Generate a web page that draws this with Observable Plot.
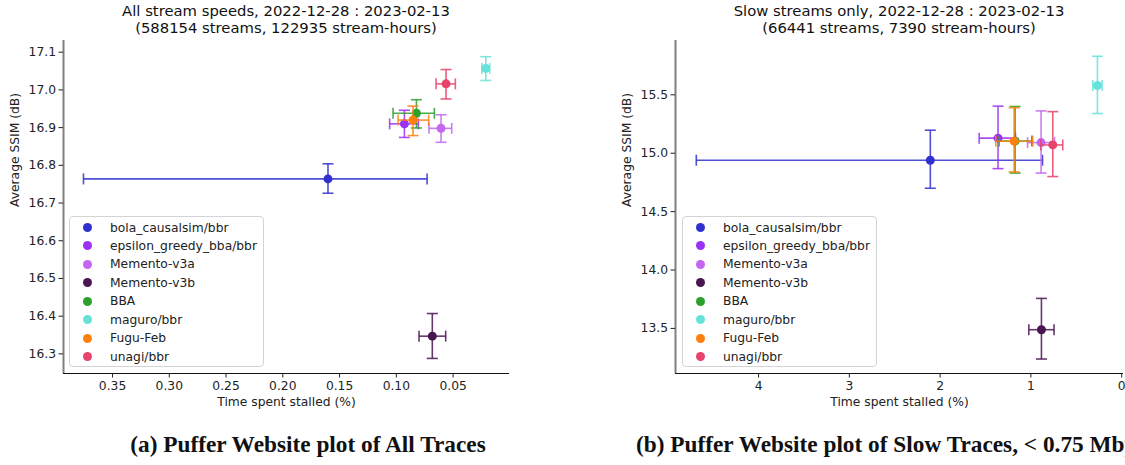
<!DOCTYPE html>
<html>
<head>
<meta charset="utf-8">
<script src="https://cdn.jsdelivr.net/npm/d3@7"></script>
<script src="https://cdn.jsdelivr.net/npm/@observablehq/plot@0.6"></script>
<style>
  html, body { margin: 0; padding: 0; background: #fff; }
  #wrap { position: relative; width: 1125px; height: 465px; overflow: hidden; background: #fff; font-family: "DejaVu Sans", sans-serif; color: #222; }
  .panel { position: absolute; top: 0; }
  .panel svg { max-width: none !important; }
  .title { position: absolute; text-align: center; font-size: 14.8px; line-height: 16.5px; white-space: nowrap; color: #111; }
  .legend { position: absolute; border: 1px solid #d4d4d4; border-radius: 4px; background: rgba(255,255,255,0.85); box-sizing: border-box; }
  .legend .row { position: absolute; left: 0; height: 18px; font-size: 12.3px; line-height: 18px; white-space: nowrap; color: #222; }
  .legend .sw { position: absolute; width: 9px; height: 9px; border-radius: 50%; top: 4.5px; }
  .caption { position: absolute; font-family: "Liberation Serif", "DejaVu Serif", serif; font-weight: bold; font-size: 23.3px; white-space: nowrap; color: #111; }
</style>
</head>
<body>
<div id="wrap"></div>
<script>
// ---- categories and colours ----
const algorithms = ["bola_causalsim/bbr", "epsilon_greedy_bba/bbr", "Memento-v3a", "Memento-v3b", "BBA", "maguro/bbr", "Fugu-Feb", "unagi/bbr"];
const colors = ["#3131d0", "#9b30f6", "#c466f0", "#4a1652", "#2ca02c", "#66e2d8", "#ff7f0e", "#e8436a"];

// ---- panel (a): all stream speeds ----
const allStall   = [0.1602, 0.0929, 0.0606, 0.0683, 0.0823, 0.0212, 0.0853, 0.0562];
const allStallLo = [0.3756, 0.1059, 0.0712, 0.0800, 0.1029, 0.0247, 0.0985, 0.0650];
const allStallHi = [0.0729, 0.0806, 0.0512, 0.0565, 0.0665, 0.0177, 0.0715, 0.0480];
const allSsim    = [16.764, 16.910, 16.898, 16.347, 16.938, 17.057, 16.920, 17.016];
const allSsimLo  = [16.726, 16.874, 16.861, 16.288, 16.899, 17.025, 16.879, 16.976];
const allSsimHi  = [16.804, 16.946, 16.934, 16.407, 16.974, 17.088, 16.957, 17.054];
const allXDomain = [0.3932, 0.0003];
const allYDomain = [16.248, 17.131];
const allXTicks = [0.35, 0.30, 0.25, 0.20, 0.15, 0.10, 0.05];
const allYTicks = [16.3, 16.4, 16.5, 16.6, 16.7, 16.8, 16.9, 17.0, 17.1];

// ---- panel (b): slow streams only ----
const slowStall   = [2.108, 1.362, 0.888, 0.884, 1.174, 0.267, 1.185, 0.759];
const slowStallLo = [4.686, 1.570, 1.037, 1.023, 1.350, 0.318, 1.387, 0.891];
const slowStallHi = [0.872, 1.170, 0.740, 0.745, 0.990, 0.216, 0.980, 0.649];
const slowSsim    = [14.940, 15.129, 15.091, 13.489, 15.105, 15.580, 15.103, 15.071];
const slowSsimLo  = [14.700, 14.868, 14.830, 13.238, 14.830, 15.340, 14.840, 14.800];
const slowSsimHi  = [15.197, 15.403, 15.362, 13.757, 15.400, 15.830, 15.390, 15.356];
const slowXDomain = [4.915, -0.02];
const slowYDomain = [13.114, 15.965];
const slowXTicks = [4, 3, 2, 1, 0];
const slowYTicks = [13.5, 14.0, 14.5, 15.0, 15.5];

// ---- texts ----
const titlesA = ["All stream speeds, 2022-12-28 : 2023-02-13", "(588154 streams, 122935 stream-hours)"];
const titlesB = ["Slow streams only, 2022-12-28 : 2023-02-13", "(66441 streams, 7390 stream-hours)"];
const xLabel = "Time spent stalled (%)";
const yLabel = "Average SSIM (dB)";
const captionA = "(a) Puffer Website plot of All Traces";
const captionB = "(b) Puffer Website plot of Slow Traces, < 0.75 Mbps";

const hCap = { draw(ctx, size) { const r = Math.sqrt(size / Math.PI); ctx.moveTo(-r, 0); ctx.lineTo(r, 0); } };
const vCap = { draw(ctx, size) { const r = Math.sqrt(size / Math.PI); ctx.moveTo(0, -r); ctx.lineTo(0, r); } };

function table(x, xlo, xhi, y, ylo, yhi) {
  return algorithms.map((a, i) => ({ alg: a, i, x: x[i], xlo: xlo[i], xhi: xhi[i], y: y[i], ylo: ylo[i], yhi: yhi[i] }));
}

function panel(opts) {
  const data = table(...opts.series);
  const fs = "12.3px";
  const marks = [
    Plot.ruleY([opts.yDomain[0]], { stroke: "#111", strokeWidth: 1 }),
    Plot.ruleX([opts.xDomain[0]], { stroke: "#808080", strokeWidth: 2 }),
    Plot.axisX({ ticks: opts.xTicks, tickFormat: opts.xFormat, tickSize: 4.5, tickPadding: 3, label: null, fontSize: fs }),
    Plot.axisY({ ticks: opts.yTicks, tickFormat: d3.format(".1f"), tickSize: 4.5, tickPadding: 3, label: null, fontSize: fs }),
    Plot.text([xLabel], { frameAnchor: "bottom", dy: 32, fontSize: fs, fill: "#222" }),
    Plot.text([yLabel], { frameAnchor: "left", dx: -48, rotate: -90, fontSize: fs, fill: "#222" })
  ];
  data.forEach((d) => {
    const c = colors[d.i];
    const one = [d];
    marks.push(
      Plot.link(one, { x1: "xlo", x2: "xhi", y1: "y", y2: "y", stroke: c, strokeWidth: 1.6, strokeOpacity: 0.85 }),
      Plot.link(one, { x1: "x", x2: "x", y1: "ylo", y2: "yhi", stroke: c, strokeWidth: 1.6, strokeOpacity: 0.85 }),
      Plot.dot([{ x: d.xlo, y: d.y }, { x: d.xhi, y: d.y }], { x: "x", y: "y", symbol: vCap, r: 5.5, stroke: c, strokeWidth: 1.6, strokeOpacity: 0.85, fill: "none" }),
      Plot.dot([{ x: d.x, y: d.ylo }, { x: d.x, y: d.yhi }], { x: "x", y: "y", symbol: hCap, r: 5.5, stroke: c, strokeWidth: 1.6, strokeOpacity: 0.85, fill: "none" }),
      Plot.dot(one, { x: "x", y: "y", r: 4.5, fill: c, stroke: "none" })
    );
  });
  return Plot.plot({
    width: opts.width, height: 420,
    marginLeft: opts.ml, marginRight: opts.mr, marginTop: 40, marginBottom: 47,
    style: { fontFamily: "DejaVu Sans, sans-serif", fontSize: fs, color: "#222", background: "transparent", overflow: "visible", maxWidth: "none" },
    x: { domain: opts.xDomain },
    y: { domain: opts.yDomain },
    marks
  });
}

const wrap = document.getElementById("wrap");

function addPanel(left, width, svg) {
  const d = document.createElement("div");
  d.className = "panel";
  d.style.left = left + "px";
  d.style.width = width + "px";
  d.appendChild(svg);
  wrap.appendChild(d);
}

addPanel(0, 520, panel({
  series: [allStall, allStallLo, allStallHi, allSsim, allSsimLo, allSsimHi],
  xDomain: allXDomain, yDomain: allYDomain, xTicks: allXTicks, yTicks: allYTicks,
  xFormat: d3.format(".2f"), width: 520, ml: 63, mr: 11
}));
addPanel(560, 600, panel({
  series: [slowStall, slowStallLo, slowStallHi, slowSsim, slowSsimLo, slowSsimHi],
  xDomain: slowXDomain, yDomain: slowYDomain, xTicks: slowXTicks, yTicks: slowYTicks,
  xFormat: d3.format("d"), width: 600, ml: 115, mr: 37
}));

function addTitle(lines, cx) {
  const t = document.createElement("div");
  t.className = "title";
  t.style.left = (cx - 250) + "px";
  t.style.width = "500px";
  t.style.top = "3px";
  t.innerHTML = lines.map(l => `<div>${l}</div>`).join("");
  wrap.appendChild(t);
}
addTitle(titlesA, 286);
addTitle(titlesB, 899);

function addLegend(left, top) {
  const L = document.createElement("div");
  L.className = "legend";
  L.style.left = left + "px";
  L.style.top = top + "px";
  L.style.width = "195px";
  L.style.height = "151px";
  algorithms.forEach((a, i) => {
    const r = document.createElement("div");
    r.className = "row";
    r.style.top = (2 + i * 18.47) + "px";
    const sw = document.createElement("div");
    sw.className = "sw";
    sw.style.left = "12.5px";
    sw.style.background = colors[i];
    const tx = document.createElement("span");
    tx.style.position = "absolute";
    tx.style.left = "40px";
    tx.textContent = a;
    r.appendChild(sw); r.appendChild(tx);
    L.appendChild(r);
  });
  wrap.appendChild(L);
}
addLegend(69, 215.5);
addLegend(682, 215.5);

function addCaption(text, left, center) {
  const c = document.createElement("div");
  c.className = "caption";
  c.textContent = text;
  c.style.top = "431px";
  if (center) { c.style.left = (left - 300) + "px"; c.style.width = "600px"; c.style.textAlign = "center"; }
  else c.style.left = left + "px";
  wrap.appendChild(c);
}
addCaption(captionA, 308, true);
addCaption(captionB, 636, false);
</script>
</body>
</html>
